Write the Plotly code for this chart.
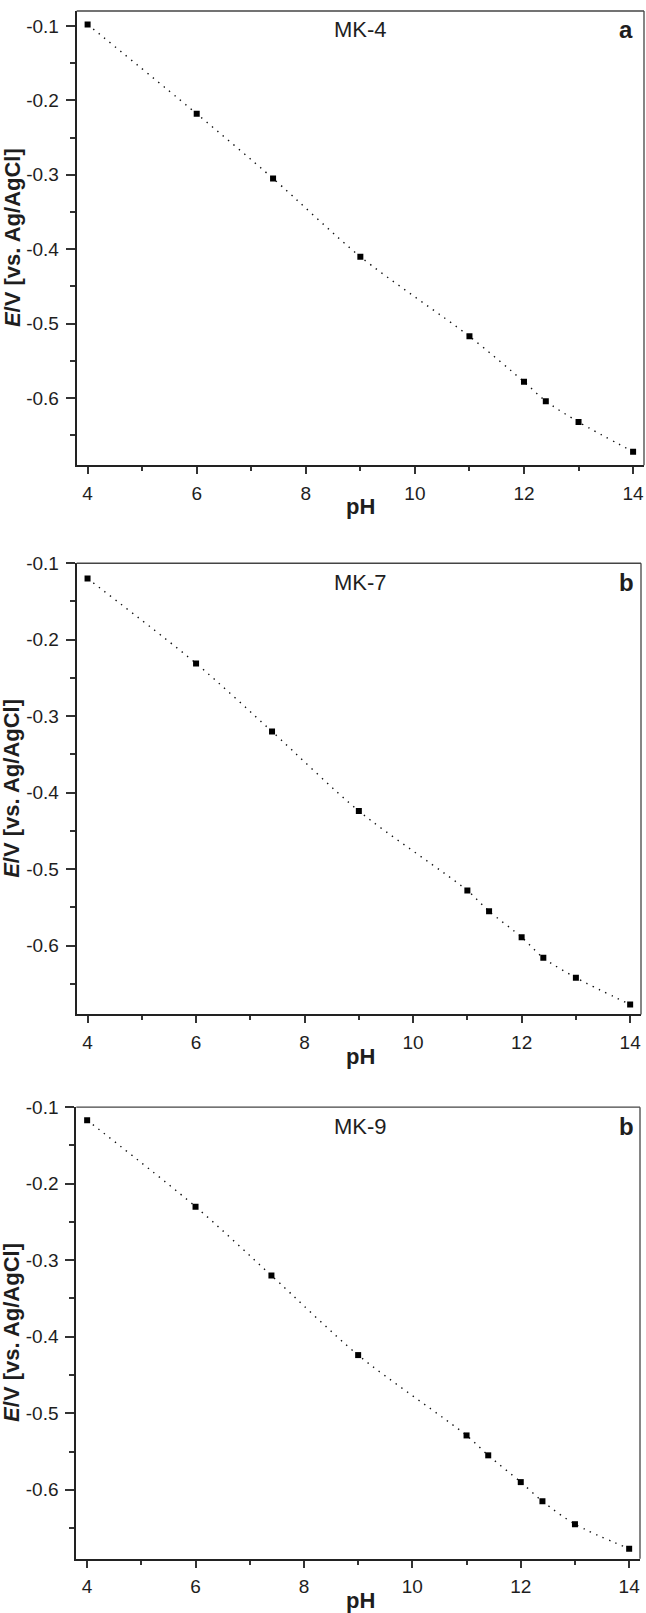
import plotly.graph_objects as go

W, H = 646, 1613

# ---- data ----
ph_mk4 = [4, 6, 7.4, 9, 11, 12, 12.4, 13, 14]
e_mk4 = [-0.098, -0.218, -0.305, -0.410, -0.517, -0.578, -0.604, -0.632, -0.672]

ph_mk7 = [4, 6, 7.4, 9, 11, 11.4, 12, 12.4, 13, 14]
e_mk7 = [-0.120, -0.231, -0.320, -0.424, -0.528, -0.555, -0.589, -0.616, -0.642, -0.677]

ph_mk9 = [4, 6, 7.4, 9, 11, 11.4, 12, 12.4, 13, 14]
e_mk9 = [-0.117, -0.230, -0.320, -0.424, -0.529, -0.555, -0.590, -0.615, -0.645, -0.677]

panel_names = ["MK-4", "MK-7", "MK-9"]
panel_letters = ["a", "b", "b"]
x_title = "pH"
y_title = "<b><i>E</i>/V [vs. Ag/AgCl]</b>"
x_ticks = [4, 6, 8, 10, 12, 14]
x_ticktext = ["4", "6", "8", "10", "12", "14"]
y_ticks = [-0.1, -0.2, -0.3, -0.4, -0.5, -0.6]
y_ticktext = ["-0.1", "-0.2", "-0.3", "-0.4", "-0.5", "-0.6"]

series = [(ph_mk4, e_mk4), (ph_mk7, e_mk7), (ph_mk9, e_mk9)]

# ---- layout geometry (pixels) ----
boxes = [  # left, right, top, bottom
    (76.7, 644.0, 1.0, 458.0),
    (76.7, 641.0, 556.7, 1010.7),
    (76.3, 640.0, 1104.0, 1558.3),
]
y_ranges = [[-0.69, -0.08], [-0.69, -0.10], [-0.69, -0.10]]
x_range = [3.8, 14.2]

FONT = "Liberation Sans, Arial, Helvetica, sans-serif"
INK = "#1e1e1e"
TICK_SIZE = 19

def px(x):
    return x / W

def py(y):
    return 1 - y / H

fig = go.Figure()
layout = dict(
    width=W, height=H,
    margin=dict(l=0, r=0, t=0, b=0),
    paper_bgcolor="white", plot_bgcolor="white",
    showlegend=False,
    font=dict(family=FONT, color=INK, size=TICK_SIZE),
)
annotations = []
shapes = []

for i, ((xs, ys), (l, r, t, b)) in enumerate(zip(series, boxes)):
    n = "" if i == 0 else str(i + 1)
    xa, ya = "x" + n, "y" + n
    fig.add_trace(go.Scatter(
        x=xs, y=ys, mode="lines", xaxis=xa, yaxis=ya,
        line=dict(color="#111", width=1.4, dash="1.4px,5.6px", shape="spline", smoothing=0.8),
        hoverinfo="skip",
    ))
    fig.add_trace(go.Scatter(
        x=xs, y=ys, mode="markers", xaxis=xa, yaxis=ya,
        marker=dict(symbol="square", size=6, color="#000", line=dict(width=0)),
    ))
    layout["xaxis" + n] = dict(
        domain=[px(l), px(r)], anchor=ya, range=x_range,
        tickmode="array", tickvals=x_ticks, ticktext=x_ticktext,
        ticks="outside", ticklen=7, tickwidth=1.5, ticklabelstandoff=3,
        tickcolor="#333", showline=True, linewidth=2, linecolor="#222",
        showgrid=False, zeroline=False, tickfont=dict(size=TICK_SIZE, color=INK),
        minor=dict(ticks="outside", dtick=1, tick0=4, ticklen=4, tickwidth=1.5, tickcolor="#333", showgrid=False),
    )
    layout["yaxis" + n] = dict(
        domain=[py(b), py(t)], anchor=xa, range=y_ranges[i],
        tickmode="array", tickvals=y_ticks, ticktext=y_ticktext,
        ticks="outside", ticklen=9, tickwidth=1.5, ticklabelstandoff=3,
        tickcolor="#333", showline=True, linewidth=2, linecolor="#222",
        showgrid=False, zeroline=False, tickfont=dict(size=TICK_SIZE, color=INK),
        minor=dict(ticks="outside", dtick=0.05, tick0=-0.1, ticklen=5, tickwidth=1.5, tickcolor="#333", showgrid=False),
    )
    # top & right frame (thinner)
    shapes.append(dict(type="line", xref=xa + " domain", yref=ya + " domain",
                       x0=0, x1=1, y0=1, y1=1, line=dict(color="#444", width=1.3)))
    shapes.append(dict(type="line", xref=xa + " domain", yref=ya + " domain",
                       x0=1, x1=1, y0=0, y1=1, line=dict(color="#444", width=1.3)))
    # axis titles
    annotations.append(dict(
        x=px(12), y=py((t + b) / 2), xref="paper", yref="paper",
        text=y_title, textangle=-90, showarrow=False,
        font=dict(size=22, family=FONT, color=INK), xanchor="center", yanchor="middle",
    ))
    annotations.append(dict(
        x=px(360), y=py(b + 42), xref="paper", yref="paper",
        text="<b>" + x_title + "</b>", showarrow=False,
        font=dict(size=22, family=FONT, color=INK), xanchor="center", yanchor="middle",
    ))
    # panel labels
    annotations.append(dict(
        x=px(360), y=py(t + 19), xref="paper", yref="paper",
        text=panel_names[i], showarrow=False,
        font=dict(size=22, family=FONT, color=INK), xanchor="center", yanchor="middle",
    ))
    annotations.append(dict(
        x=px(626), y=py(t + 19), xref="paper", yref="paper",
        text="<b>" + panel_letters[i] + "</b>", showarrow=False,
        font=dict(size=24, family=FONT, color=INK), xanchor="center", yanchor="middle",
    ))

layout["annotations"] = annotations
layout["shapes"] = shapes
fig.update_layout(**layout)
fig.write_html(
    "out.html",
    config={"displayModeBar": False},
    post_script="document.body.style.margin='0';document.body.style.overflow='hidden';",
)
